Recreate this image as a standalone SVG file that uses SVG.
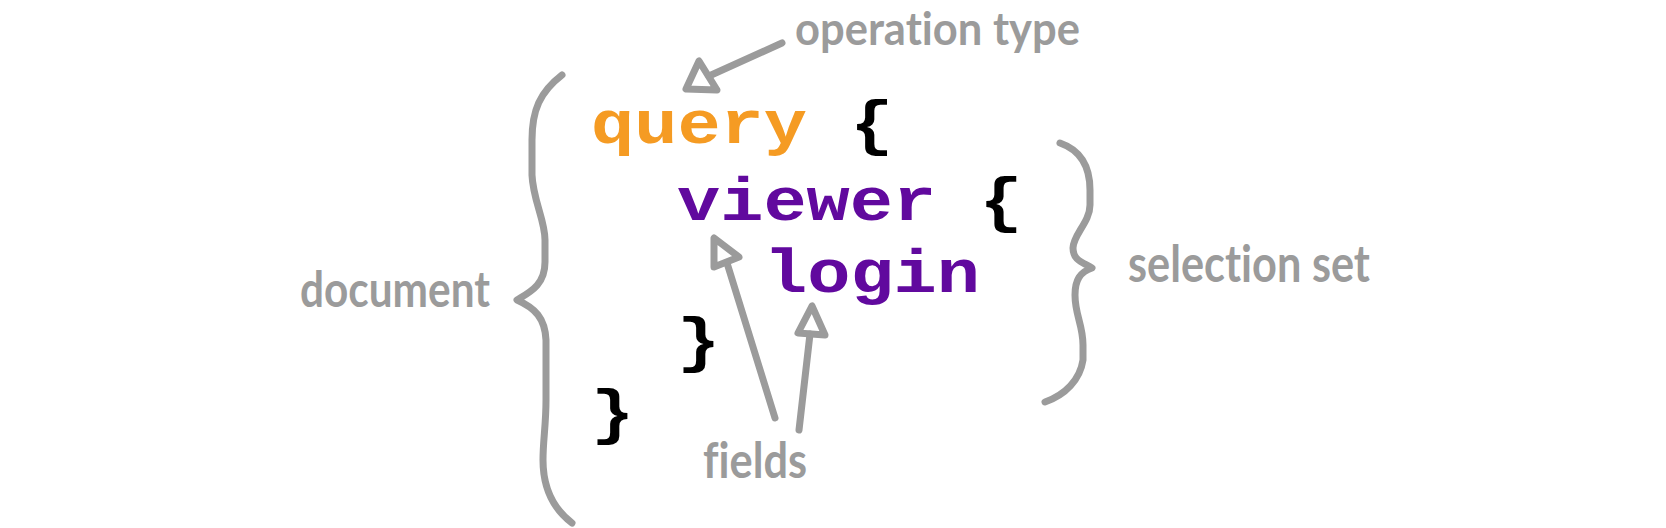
<svg xmlns="http://www.w3.org/2000/svg" width="1666" height="528" viewBox="0 0 1666 528">
<style>
.code{font-family:"Liberation Mono","Courier New",monospace;font-weight:bold;font-size:72px}
.q{fill:#F59B23}
.p{fill:#61099E}
.k{fill:#000000}
.lbl{font-family:Lato,"Open Sans",sans-serif;font-weight:bold;fill:#9B9B9B;font-variant-ligatures:none}
.ln{fill:none;stroke:#9B9B9B;stroke-width:7;stroke-linecap:round;stroke-linejoin:round}
</style>
<rect width="1666" height="528" fill="#ffffff"/>
<g id="code">
<g id="line-query"><text class="code" transform="translate(591 143) scale(1 0.84)"><tspan class="q" x="0">query</tspan><tspan class="k" x="259.2">{</tspan></text></g>
<g id="line-viewer"><text class="code" transform="translate(677 220) scale(1 0.84)"><tspan class="p" x="0">viewer</tspan><tspan class="k" x="302.4">{</tspan></text></g>
<g id="line-login"><text class="code p" transform="translate(764 292) scale(1 0.84)">login</text></g>
<g id="line-close-inner"><text class="code k" transform="translate(677 360) scale(1 0.84)">}</text></g>
<g id="line-close-outer"><text class="code k" transform="translate(591 432) scale(1 0.84)">}</text></g>
</g>
<g id="label-operation-type"><text class="lbl" x="795" y="45" font-size="46" textLength="285" lengthAdjust="spacingAndGlyphs">operation type</text></g>
<g id="label-document"><text class="lbl" x="300" y="307" font-size="50" textLength="190" lengthAdjust="spacingAndGlyphs">document</text></g>
<g id="label-fields"><text class="lbl" x="703" y="478" font-size="50" textLength="104" lengthAdjust="spacingAndGlyphs">fields</text></g>
<g id="label-selection-set"><text class="lbl" x="1128" y="282" font-size="52" textLength="242" lengthAdjust="spacingAndGlyphs">selection set</text></g>
<g id="connectors">
<path class="ln" d="M782,43 L709,76"/>
<polygon class="ln" points="699,61 686,89 717,90"/>
<path class="ln" d="M775,418 L727,263"/>
<polygon class="ln" points="714,238 714,267 739,257"/>
<path class="ln" d="M799,430 L810,334"/>
<polygon class="ln" points="812,306 798,333 825,335"/>
<path id="brace-document" class="ln" d="M562,75 C540,92 532,110 532,140 L532,175 C533,200 545,220 545,240 L545,262 C545,285 530,292 517,300 C535,308 545,318 546,340 L546,400 C546,425 543,440 543,460 C543,490 555,510 572,523"/>
<path id="brace-selection" class="ln" d="M1060,143 C1080,150 1090,165 1090,190 L1090,205 C1090,222 1073,235 1073,248 C1073,260 1082,262 1092,268 C1080,272 1075,280 1075,295 C1075,315 1083,325 1083,345 L1083,360 C1080,380 1065,395 1045,402"/>
</g>
</svg>
